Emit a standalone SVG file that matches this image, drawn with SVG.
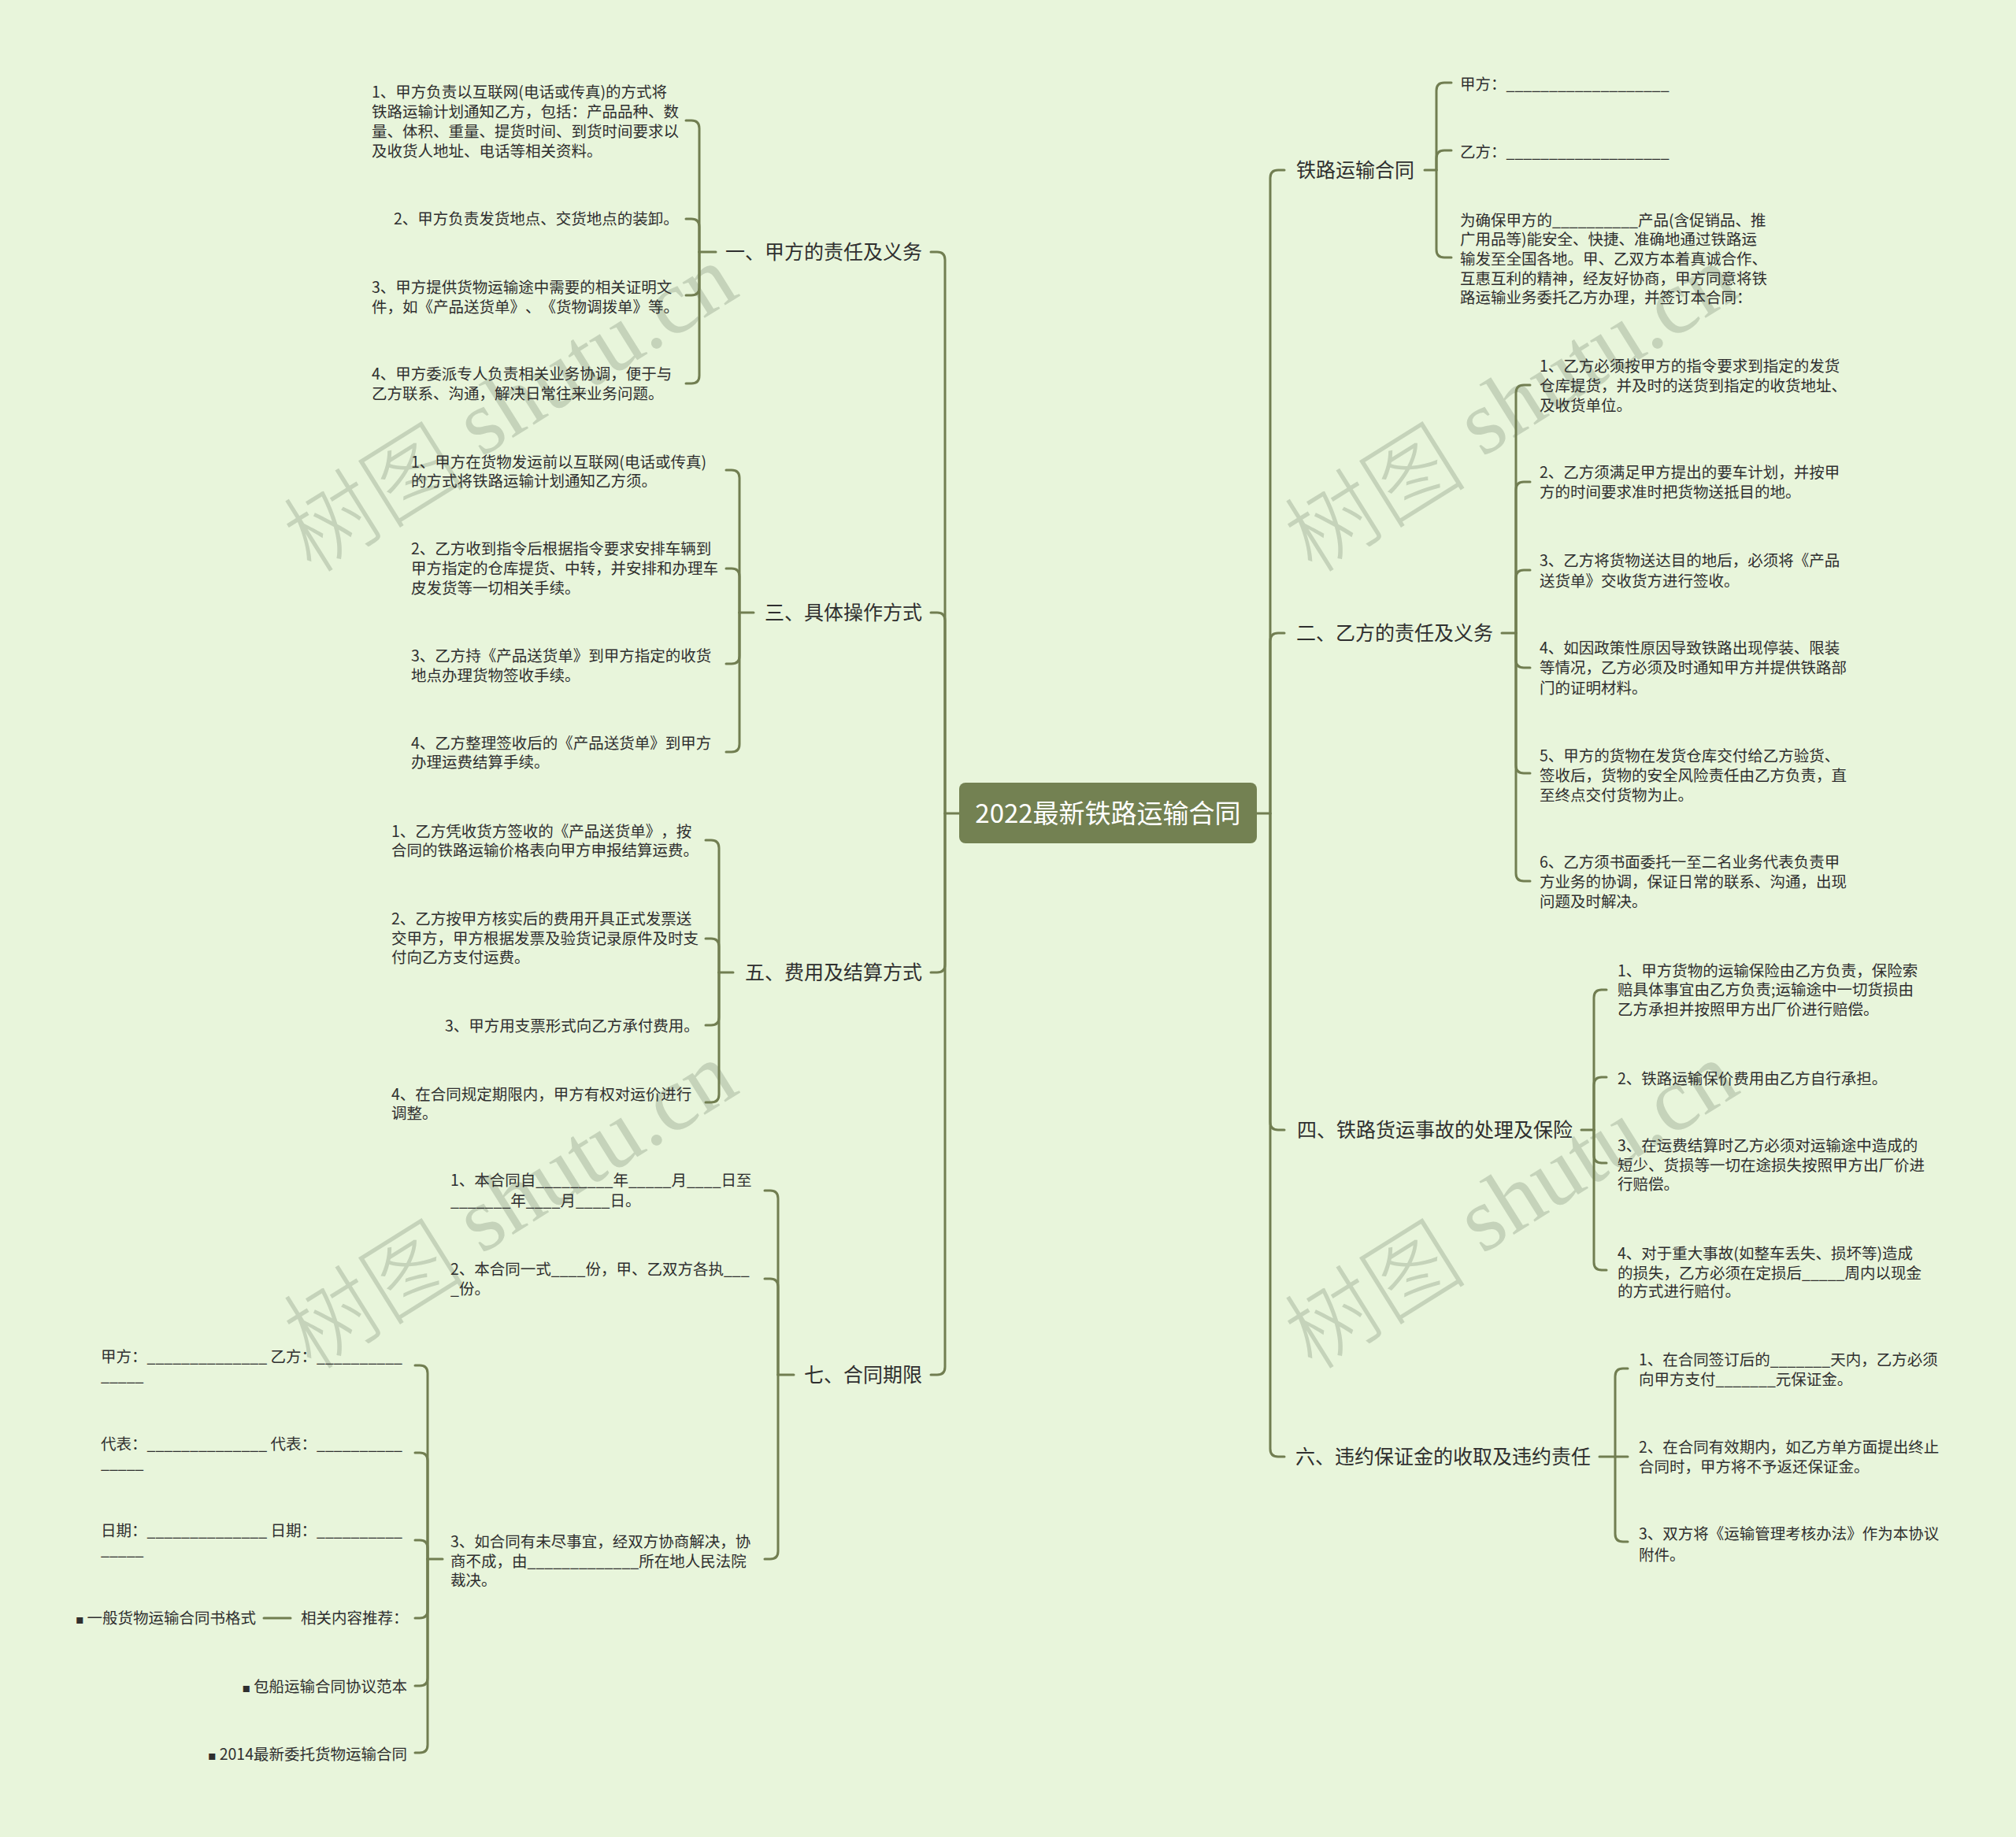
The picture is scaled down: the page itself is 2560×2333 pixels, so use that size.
<svg xmlns="http://www.w3.org/2000/svg" width="2560" height="2333" viewBox="0 0 2560 2333">
<style>
.t{font-family:"Noto Sans CJK SC","Noto Sans",sans-serif;font-size:19.5px;fill:#2f2f2f;text-spacing-trim:space-all}
.b{font-family:"Noto Sans CJK SC","Noto Sans",sans-serif;font-size:25px;fill:#2f2f2f;text-spacing-trim:space-all}
.c{stroke:#717e51;stroke-width:3;fill:none;stroke-linecap:round;stroke-linejoin:round}
.wm{font-size:116px;fill:#c5d3ba}
.wmc{font-family:"Noto Sans CJK SC",sans-serif;font-weight:300}
.wms{font-family:"Liberation Serif",serif}
.sq{font-size:10px}
</style>
<rect x="0" y="0" width="2560" height="2333" fill="#e8f5db"/>
<g id="watermarks">
<text class="wm" transform="translate(645,514) rotate(-32)" text-anchor="middle" dominant-baseline="central"><tspan class="wmc">树图</tspan><tspan class="wms"> shutu.cn</tspan></text>
<text class="wm" transform="translate(645,1526) rotate(-32)" text-anchor="middle" dominant-baseline="central"><tspan class="wmc">树图</tspan><tspan class="wms"> shutu.cn</tspan></text>
<text class="wm" transform="translate(1916,514) rotate(-32)" text-anchor="middle" dominant-baseline="central"><tspan class="wmc">树图</tspan><tspan class="wms"> shutu.cn</tspan></text>
<text class="wm" transform="translate(1916,1526) rotate(-32)" text-anchor="middle" dominant-baseline="central"><tspan class="wmc">树图</tspan><tspan class="wms"> shutu.cn</tspan></text>
</g>
<g id="connectors">
<path class="c" d="M1218,1033 H1200 V330 Q1200,320 1190,320 H1182"/>
<path class="c" d="M1200,1033 V788 Q1200,778 1190,778 H1182"/>
<path class="c" d="M1200,1033 V1225 Q1200,1235 1190,1235 H1182"/>
<path class="c" d="M1200,1033 V1736 Q1200,1746 1190,1746 H1182"/>
<path class="c" d="M1596,1033 H1613"/>
<path class="c" d="M1613,1033 V226 Q1613,216 1623,216 H1631"/>
<path class="c" d="M1613,1033 V814 Q1613,804 1623,804 H1631"/>
<path class="c" d="M1613,1033 V1425 Q1613,1435 1623,1435 H1631"/>
<path class="c" d="M1613,1033 V1840 Q1613,1850 1623,1850 H1631"/>
<path class="c" d="M909,320 H888"/>
<path class="c" d="M888,320 V163 Q888,153 878,153 H871"/>
<path class="c" d="M888,320 V288 Q888,278 878,278 H871"/>
<path class="c" d="M888,320 V365 Q888,375 878,375 H871"/>
<path class="c" d="M888,320 V477 Q888,487 878,487 H871"/>
<path class="c" d="M957,778 H939"/>
<path class="c" d="M939,778 V607 Q939,597 929,597 H922"/>
<path class="c" d="M939,778 V732 Q939,722 929,722 H922"/>
<path class="c" d="M939,778 V833 Q939,843 929,843 H922"/>
<path class="c" d="M939,778 V945 Q939,955 929,955 H922"/>
<path class="c" d="M931,1235 H913"/>
<path class="c" d="M913,1235 V1077 Q913,1067 903,1067 H896"/>
<path class="c" d="M913,1235 V1202 Q913,1192 903,1192 H896"/>
<path class="c" d="M913,1235 V1292 Q913,1302 903,1302 H896"/>
<path class="c" d="M913,1235 V1390 Q913,1400 903,1400 H896"/>
<path class="c" d="M1008,1746 H988"/>
<path class="c" d="M988,1746 V1522 Q988,1512 978,1512 H971"/>
<path class="c" d="M988,1746 V1634 Q988,1624 978,1624 H971"/>
<path class="c" d="M988,1746 V1970 Q988,1980 978,1980 H971"/>
<path class="c" d="M562,1980 H543"/>
<path class="c" d="M543,1980 V1744 Q543,1734 533,1734 H527"/>
<path class="c" d="M543,1980 V1855 Q543,1845 533,1845 H527"/>
<path class="c" d="M543,1980 V1966 Q543,1956 533,1956 H527"/>
<path class="c" d="M543,1980 V2045 Q543,2055 533,2055 H527"/>
<path class="c" d="M543,1980 V2131 Q543,2141 533,2141 H527"/>
<path class="c" d="M543,1980 V2216 Q543,2226 533,2226 H527"/>
<path class="c" d="M369,2055 H335"/>
<path class="c" d="M1809,216 H1824"/>
<path class="c" d="M1824,216 V115 Q1824,105 1834,105 H1843"/>
<path class="c" d="M1824,216 V201 Q1824,191 1834,191 H1843"/>
<path class="c" d="M1824,216 V317 Q1824,327 1834,327 H1843"/>
<path class="c" d="M1907,804 H1925"/>
<path class="c" d="M1925,804 V499 Q1925,489 1935,489 H1943"/>
<path class="c" d="M1925,804 V622 Q1925,612 1935,612 H1943"/>
<path class="c" d="M1925,804 V734 Q1925,724 1935,724 H1943"/>
<path class="c" d="M1925,804 V838 Q1925,848 1935,848 H1943"/>
<path class="c" d="M1925,804 V972 Q1925,982 1935,982 H1943"/>
<path class="c" d="M1925,804 V1109 Q1925,1119 1935,1119 H1943"/>
<path class="c" d="M2008,1435 H2024"/>
<path class="c" d="M2024,1435 V1267 Q2024,1257 2034,1257 H2040"/>
<path class="c" d="M2024,1435 V1378 Q2024,1368 2034,1368 H2040"/>
<path class="c" d="M2024,1435 V1467 Q2024,1477 2034,1477 H2040"/>
<path class="c" d="M2024,1435 V1603 Q2024,1613 2034,1613 H2040"/>
<path class="c" d="M2031,1850 H2067"/>
<path class="c" d="M2051,1850 V1748 Q2051,1738 2061,1738 H2067"/>
<path class="c" d="M2051,1850 V1948 Q2051,1958 2061,1958 H2067"/>
</g>
<g id="root">
<rect x="1218" y="994" width="378" height="77" rx="8" fill="#738152"/>
<text x="1407" y="1045" text-anchor="middle" style="font-family:'Noto Sans CJK SC',sans-serif;font-size:33px;fill:#ffffff">2022最新铁路运输合同</text>
</g>
<g id="b1"><text class="b" x="1171" y="329" text-anchor="end">一、甲方的责任及义务</text></g>
<g id="b1c1"><text class="t"><tspan x="472" y="124">1、甲方负责以互联网(电话或传真)的方式将</tspan><tspan x="472" y="149">铁路运输计划通知乙方，包括：产品品种、数</tspan><tspan x="472" y="174">量、体积、重量、提货时间、到货时间要求以</tspan><tspan x="472" y="199">及收货人地址、电话等相关资料。</tspan></text></g>
<g id="b1c2"><text class="t" x="500" y="285">2、甲方负责发货地点、交货地点的装卸。</text></g>
<g id="b1c3"><text class="t"><tspan x="472" y="372">3、甲方提供货物运输途中需要的相关证明文</tspan><tspan x="472" y="397">件，如《产品送货单》、《货物调拨单》等。</tspan></text></g>
<g id="b1c4"><text class="t"><tspan x="472" y="482">4、甲方委派专人负责相关业务协调，便于与</tspan><tspan x="472" y="507">乙方联系、沟通，解决日常往来业务问题。</tspan></text></g>

<g id="b3"><text class="b" x="1171" y="787" text-anchor="end">三、具体操作方式</text></g>
<g id="b3c1"><text class="t"><tspan x="522" y="594">1、甲方在货物发运前以互联网(电话或传真)</tspan><tspan x="522" y="618">的方式将铁路运输计划通知乙方须。</tspan></text></g>
<g id="b3c2"><text class="t"><tspan x="522" y="704">2、乙方收到指令后根据指令要求安排车辆到</tspan><tspan x="522" y="729">甲方指定的仓库提货、中转，并安排和办理车</tspan><tspan x="522" y="754">皮发货等一切相关手续。</tspan></text></g>
<g id="b3c3"><text class="t"><tspan x="522" y="840">3、乙方持《产品送货单》到甲方指定的收货</tspan><tspan x="522" y="865">地点办理货物签收手续。</tspan></text></g>
<g id="b3c4"><text class="t"><tspan x="522" y="951">4、乙方整理签收后的《产品送货单》到甲方</tspan><tspan x="522" y="975">办理运费结算手续。</tspan></text></g>

<g id="b5"><text class="b" x="1171" y="1244" text-anchor="end">五、费用及结算方式</text></g>
<g id="b5c1"><text class="t"><tspan x="497" y="1063">1、乙方凭收货方签收的《产品送货单》，按</tspan><tspan x="497" y="1087">合同的铁路运输价格表向甲方申报结算运费。</tspan></text></g>
<g id="b5c2"><text class="t"><tspan x="497" y="1174">2、乙方按甲方核实后的费用开具正式发票送</tspan><tspan x="497" y="1199">交甲方，甲方根据发票及验货记录原件及时支</tspan><tspan x="497" y="1223">付向乙方支付运费。</tspan></text></g>
<g id="b5c3"><text class="t" x="565" y="1310">3、甲方用支票形式向乙方承付费用。</text></g>
<g id="b5c4"><text class="t"><tspan x="497" y="1397">4、在合同规定期限内，甲方有权对运价进行</tspan><tspan x="497" y="1421">调整。</tspan></text></g>

<g id="b7"><text class="b" x="1171" y="1755" text-anchor="end">七、合同期限</text></g>
<g id="b7c1"><text class="t"><tspan x="572" y="1506">1、本合同自_________年_____月____日至</tspan><tspan x="572" y="1532">_______年____月____日。</tspan></text></g>
<g id="b7c2"><text class="t"><tspan x="572" y="1619">2、本合同一式____份，甲、乙双方各执___</tspan><tspan x="572" y="1644">_份。</tspan></text></g>
<g id="b7c3"><text class="t"><tspan x="572" y="1965">3、如合同有未尽事宜，经双方协商解决，协</tspan><tspan x="572" y="1990">商不成，由_____________所在地人民法院</tspan><tspan x="572" y="2014">裁决。</tspan></text></g>
<g id="b7c3s1"><text class="t"><tspan x="128" y="1730">甲方：______________ 乙方：__________</tspan><tspan x="128" y="1754">_____</tspan></text></g>
<g id="b7c3s2"><text class="t"><tspan x="128" y="1841">代表：______________ 代表：__________</tspan><tspan x="128" y="1865">_____</tspan></text></g>
<g id="b7c3s3"><text class="t"><tspan x="128" y="1951">日期：______________ 日期：__________</tspan><tspan x="128" y="1975">_____</tspan></text></g>
<g id="b7c3s4"><text class="t" x="382" y="2062">相关内容推荐：</text></g>
<g id="b7c3s4a"><text class="t" x="325" y="2062" text-anchor="end"><tspan class="sq">■</tspan> 一般货物运输合同书格式</text></g>
<g id="b7c3s5"><text class="t" x="517" y="2149" text-anchor="end"><tspan class="sq">■</tspan> 包船运输合同协议范本</text></g>
<g id="b7c3s6"><text class="t" x="517" y="2235" text-anchor="end"><tspan class="sq">■</tspan> 2014最新委托货物运输合同</text></g>

<g id="r1"><text class="b" x="1646" y="225">铁路运输合同</text></g>
<g id="r1c1"><text class="t" x="1854" y="114">甲方：___________________</text></g>
<g id="r1c2"><text class="t" x="1854" y="200">乙方：___________________</text></g>
<g id="r1c3"><text class="t"><tspan x="1854" y="287">为确保甲方的__________产品(含促销品、推</tspan><tspan x="1854" y="311">广用品等)能安全、快捷、准确地通过铁路运</tspan><tspan x="1854" y="336">输发至全国各地。甲、乙双方本着真诚合作、</tspan><tspan x="1854" y="361">互惠互利的精神，经友好协商，甲方同意将铁</tspan><tspan x="1854" y="385">路运输业务委托乙方办理，并签订本合同：</tspan></text></g>

<g id="r2"><text class="b" x="1646" y="813">二、乙方的责任及义务</text></g>
<g id="r2c1"><text class="t"><tspan x="1955" y="472">1、乙方必须按甲方的指令要求到指定的发货</tspan><tspan x="1955" y="497">仓库提货，并及时的送货到指定的收货地址、</tspan><tspan x="1955" y="522">及收货单位。</tspan></text></g>
<g id="r2c2"><text class="t"><tspan x="1955" y="607">2、乙方须满足甲方提出的要车计划，并按甲</tspan><tspan x="1955" y="632">方的时间要求准时把货物送抵目的地。</tspan></text></g>
<g id="r2c3"><text class="t"><tspan x="1955" y="719">3、乙方将货物送达目的地后，必须将《产品</tspan><tspan x="1955" y="745">送货单》交收货方进行签收。</tspan></text></g>
<g id="r2c4"><text class="t"><tspan x="1955" y="830">4、如因政策性原因导致铁路出现停装、限装</tspan><tspan x="1955" y="855">等情况，乙方必须及时通知甲方并提供铁路部</tspan><tspan x="1955" y="881">门的证明材料。</tspan></text></g>
<g id="r2c5"><text class="t"><tspan x="1955" y="967">5、甲方的货物在发货仓库交付给乙方验货、</tspan><tspan x="1955" y="992">签收后，货物的安全风险责任由乙方负责，直</tspan><tspan x="1955" y="1017">至终点交付货物为止。</tspan></text></g>
<g id="r2c6"><text class="t"><tspan x="1955" y="1102">6、乙方须书面委托一至二名业务代表负责甲</tspan><tspan x="1955" y="1127">方业务的协调，保证日常的联系、沟通，出现</tspan><tspan x="1955" y="1152">问题及时解决。</tspan></text></g>

<g id="r4"><text class="b" x="1647" y="1444">四、铁路货运事故的处理及保险</text></g>
<g id="r4c1"><text class="t"><tspan x="2054" y="1240">1、甲方货物的运输保险由乙方负责，保险索</tspan><tspan x="2054" y="1264">赔具体事宜由乙方负责;运输途中一切货损由</tspan><tspan x="2054" y="1289">乙方承担并按照甲方出厂价进行赔偿。</tspan></text></g>
<g id="r4c2"><text class="t" x="2054" y="1377">2、铁路运输保价费用由乙方自行承担。</text></g>
<g id="r4c3"><text class="t"><tspan x="2054" y="1462">3、在运费结算时乙方必须对运输途中造成的</tspan><tspan x="2054" y="1487">短少、货损等一切在途损失按照甲方出厂价进</tspan><tspan x="2054" y="1511">行赔偿。</tspan></text></g>
<g id="r4c4"><text class="t"><tspan x="2054" y="1599">4、对于重大事故(如整车丢失、损坏等)造成</tspan><tspan x="2054" y="1624">的损失，乙方必须在定损后_____周内以现金</tspan><tspan x="2054" y="1647">的方式进行赔付。</tspan></text></g>

<g id="r6"><text class="b" x="1645" y="1859">六、违约保证金的收取及违约责任</text></g>
<g id="r6c1"><text class="t"><tspan x="2081" y="1734">1、在合同签订后的_______天内，乙方必须</tspan><tspan x="2081" y="1759">向甲方支付_______元保证金。</tspan></text></g>
<g id="r6c2"><text class="t"><tspan x="2081" y="1845">2、在合同有效期内，如乙方单方面提出终止</tspan><tspan x="2081" y="1870">合同时，甲方将不予返还保证金。</tspan></text></g>
<g id="r6c3"><text class="t"><tspan x="2081" y="1955">3、双方将《运输管理考核办法》作为本协议</tspan><tspan x="2081" y="1982">附件。</tspan></text></g>
</svg>
